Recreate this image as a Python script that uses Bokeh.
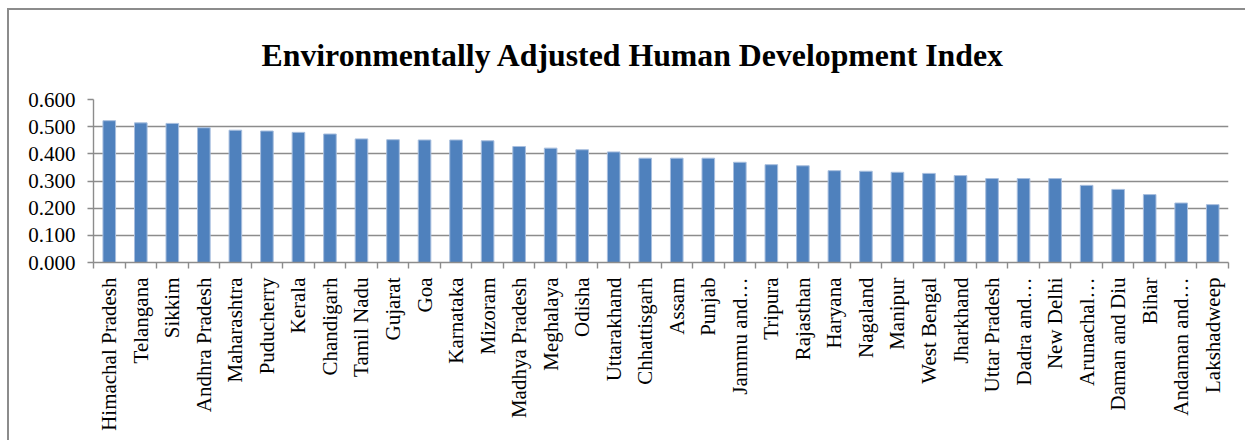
import numpy as np
from bokeh.plotting import figure
from bokeh.models import FixedTicker, NumeralTickFormatter, Range1d, ColumnDataSource
from bokeh.embed import file_html
from bokeh.resources import INLINE

# Environmentally Adjusted HDI by state / union territory
states = [
    "Himachal Pradesh", "Telangana", "Sikkim", "Andhra Pradesh", "Maharashtra",
    "Puducherry", "Kerala", "Chandigarh", "Tamil Nadu", "Gujarat", "Goa",
    "Karnataka", "Mizoram", "Madhya Pradesh", "Meghalaya", "Odisha",
    "Uttarakhand", "Chhattisgarh", "Assam", "Punjab", "Jammu and\u2026",
    "Tripura", "Rajasthan", "Haryana", "Nagaland", "Manipur", "West Bengal",
    "Jharkhand", "Uttar Pradesh", "Dadra and\u2026", "New Delhi", "Arunachal\u2026",
    "Daman and Diu", "Bihar", "Andaman and\u2026", "Lakshadweep",
]
eahdi = [
    0.522, 0.514, 0.512, 0.496, 0.487,
    0.484, 0.479, 0.473, 0.455, 0.452, 0.451,
    0.451, 0.448, 0.427, 0.421, 0.415,
    0.407, 0.384, 0.384, 0.384, 0.369,
    0.360, 0.356, 0.338, 0.336, 0.332, 0.328,
    0.320, 0.309, 0.309, 0.309, 0.284,
    0.269, 0.250, 0.219, 0.213,
]
y_ticks = [0.0, 0.1, 0.2, 0.3, 0.4, 0.5, 0.6]
title_text = "Environmentally Adjusted Human Development Index"

SERIF = "Liberation Serif"
GRID = "#8c8c8c"

n = len(states)
centers = (np.arange(n) + 0.5).tolist()
edges = list(range(n + 1))

p = figure(
    width=1238, height=432,
    x_range=Range1d(0, n), y_range=Range1d(y_ticks[0], y_ticks[-1]),
    output_backend="svg", toolbar_location=None,
    min_border_left=84, min_border_right=19,
    min_border_top=89, min_border_bottom=180,
    margin=(8, 0, 0, 7),
    title=title_text,
)
p.styles = {"border-left": "2px solid #8c8c8c", "border-top": "2px solid #8c8c8c"}
p.outline_line_color = None
p.background_fill_color = "white"
p.border_fill_color = "white"

# chart title, centred over the whole chart area
p.title.align = "left"
p.title.vertical_align = "top"
p.title.offset = 168
p.title.standoff = 49
p.title.text_font = SERIF
p.title.text_font_size = "31.8px"
p.title.text_font_style = "bold"
p.title.text_color = "black"

src = ColumnDataSource(dict(x=centers, top=eahdi, name=states))
p.vbar(x="x", top="top", bottom=0, width=0.4, source=src,
       fill_color="#4F81BD", line_color="#a7bede", line_width=1)

# grid
p.xgrid.grid_line_color = None
p.ygrid.grid_line_color = GRID
p.ygrid.grid_line_width = 1.4

# y axis
ya = p.yaxis[0]
ya.ticker = FixedTicker(ticks=y_ticks)
ya.formatter = NumeralTickFormatter(format="0.000")
ya.axis_line_color = GRID
ya.axis_line_width = 1.4
ya.major_tick_line_color = GRID
ya.major_tick_line_width = 1.4
ya.major_tick_out = 6
ya.major_tick_in = 0
ya.minor_tick_line_color = None
ya.major_label_text_font = SERIF
ya.major_label_text_font_size = "21px"
ya.major_label_text_color = "black"
ya.major_label_standoff = 12

# x axis: names at bar centres, tick marks between categories
xa = p.xaxis[0]
xa.ticker = FixedTicker(ticks=centers, minor_ticks=edges)
xa.major_label_overrides = {c: s for c, s in zip(centers, states)}
xa.major_label_orientation = np.pi / 2
xa.axis_line_color = GRID
xa.axis_line_width = 1.4
xa.major_tick_line_color = None
xa.major_tick_out = 0
xa.major_tick_in = 0
xa.minor_tick_line_color = GRID
xa.minor_tick_line_width = 1.4
xa.minor_tick_out = 6
xa.minor_tick_in = 0
xa.major_label_text_font = SERIF
xa.major_label_text_font_size = "21px"
xa.major_label_text_color = "black"
xa.major_label_standoff = 9

open("out.html", "w").write(file_html(p, INLINE))
